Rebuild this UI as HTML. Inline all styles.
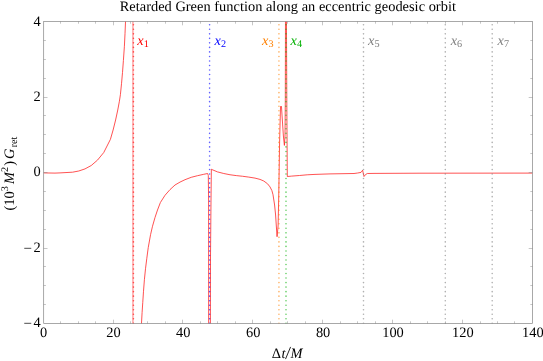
<!DOCTYPE html>
<html><head><meta charset="utf-8"><title>plot</title>
<style>
html,body{margin:0;padding:0;background:#fff;overflow:hidden;}
svg{display:block;will-change:transform;}
text{font-family:"Liberation Serif",serif;font-size:14.4px;fill:#000;text-rendering:geometricPrecision;}
.it{font-style:italic;}
.sub{font-size:10.2px;}
</style></head>
<body>
<svg width="543" height="361" viewBox="0 0 543 361">
<text x="119.7" y="10.8" textLength="336.2">Retarded Green function along an eccentric geodesic orbit</text>
<defs><clipPath id="c"><rect x="43.5" y="21.5" width="489.0" height="302.0"/></clipPath></defs>
<g clip-path="url(#c)" fill="none">
<g stroke="#ff2020" stroke-width="0.78" stroke-linejoin="round">
<path d="M43.50 172.90L55.00 173.10L60.00 172.90L72.50 172.20L78.75 171.00L85.00 168.90L91.25 165.50L97.50 160.10L103.75 152.50L110.40 139.40L113.10 130.00L115.60 120.00L117.75 110.00L119.40 101.25L120.40 94.70L121.50 83.75L122.50 72.50L123.40 60.50L124.40 46.25L125.00 33.75L125.50 21.90L125.90 10.00"/>
<path d="M141.00 335.00L141.50 323.10L142.10 312.50L142.75 302.50L143.50 291.25L144.40 279.70L145.50 268.75L146.75 258.75L148.25 247.50L150.55 234.70L152.50 226.25L155.00 217.50L157.50 210.00L160.40 202.50L165.00 195.30L170.00 189.60L175.00 185.00L180.00 182.10L185.00 179.70L191.25 177.30L197.50 175.70L203.75 174.30L207.60 173.50L208.30 175.50L208.60 200.00L208.65 335.00"/>
<path d="M210.35 335.00L210.40 323.00L210.50 256.00L211.00 200.00L211.35 169.20L211.80 169.50L217.50 171.90L223.75 173.50L230.00 174.75L236.25 175.60L242.50 176.25L248.75 177.10L255.00 178.10L260.00 179.40L263.75 181.00L267.50 183.75L270.00 186.90L271.90 190.60L273.00 194.70L274.60 205.00L275.60 215.00L276.25 225.00L277.05 236.70L278.10 226.00L278.75 195.00L279.60 142.00L280.50 107.00L281.00 106.00L281.50 107.00L282.00 115.00L283.40 136.00L284.40 145.40L285.00 136.00L285.30 100.00L285.50 10.00"/>
<path d="M286.40 10.00L286.80 100.00L287.30 176.50L291.70 176.10L299.40 175.50L307.20 174.80L315.00 174.40L330.00 173.90L354.00 173.50L357.70 173.00L361.00 172.40L362.60 170.20L364.00 176.50L365.50 174.60L367.30 173.50L374.00 173.40L420.00 173.20L532.50 173.10"/>
<path d="M132.95 10.00L132.95 335.00" stroke-width="0.6"/>
</g>
<line x1="133.45" y1="323.3" x2="133.45" y2="15.5" stroke="#ff0000" stroke-width="1.6" stroke-linecap="round" stroke-opacity="0.62" stroke-dasharray="0 4.523"/>
<line x1="209.6" y1="323.3" x2="209.6" y2="15.5" stroke="#0000ff" stroke-width="1.6" stroke-linecap="round" stroke-opacity="0.62" stroke-dasharray="0 4.523"/>
<line x1="278.95" y1="323.3" x2="278.95" y2="15.5" stroke="#ff8000" stroke-width="1.6" stroke-linecap="round" stroke-opacity="0.62" stroke-dasharray="0 4.523"/>
<line x1="286.0" y1="323.3" x2="286.0" y2="15.5" stroke="#00b000" stroke-width="1.6" stroke-linecap="round" stroke-opacity="0.62" stroke-dasharray="0 4.523"/>
<line x1="363.5" y1="323.3" x2="363.5" y2="15.5" stroke="#808080" stroke-width="1.6" stroke-linecap="round" stroke-opacity="0.62" stroke-dasharray="0 4.523"/>
<line x1="445.3" y1="323.3" x2="445.3" y2="15.5" stroke="#808080" stroke-width="1.6" stroke-linecap="round" stroke-opacity="0.62" stroke-dasharray="0 4.523"/>
<line x1="492.2" y1="323.3" x2="492.2" y2="15.5" stroke="#808080" stroke-width="1.6" stroke-linecap="round" stroke-opacity="0.62" stroke-dasharray="0 4.523"/>
</g>
<g stroke="#808080" stroke-width="0.68" fill="none">
<rect x="43.7" y="21.5" width="488.8" height="302.0"/>
<path stroke-width="0.45" d="M60.5 323.5v-2.2M60.5 21.5v2.2M78.5 323.5v-2.2M78.5 21.5v2.2M95.5 323.5v-2.2M95.5 21.5v2.2M113.5 323.5v-3.8M113.5 21.5v3.8M130.5 323.5v-2.2M130.5 21.5v2.2M147.5 323.5v-2.2M147.5 21.5v2.2M165.5 323.5v-2.2M165.5 21.5v2.2M182.5 323.5v-3.8M182.5 21.5v3.8M200.5 323.5v-2.2M200.5 21.5v2.2M217.5 323.5v-2.2M217.5 21.5v2.2M235.5 323.5v-2.2M235.5 21.5v2.2M252.5 323.5v-3.8M252.5 21.5v3.8M270.5 323.5v-2.2M270.5 21.5v2.2M287.5 323.5v-2.2M287.5 21.5v2.2M305.5 323.5v-2.2M305.5 21.5v2.2M322.5 323.5v-3.8M322.5 21.5v3.8M340.5 323.5v-2.2M340.5 21.5v2.2M357.5 323.5v-2.2M357.5 21.5v2.2M375.5 323.5v-2.2M375.5 21.5v2.2M392.5 323.5v-3.8M392.5 21.5v3.8M410.5 323.5v-2.2M410.5 21.5v2.2M427.5 323.5v-2.2M427.5 21.5v2.2M445.5 323.5v-2.2M445.5 21.5v2.2M462.5 323.5v-3.8M462.5 21.5v3.8M480.5 323.5v-2.2M480.5 21.5v2.2M497.5 323.5v-2.2M497.5 21.5v2.2M514.5 323.5v-2.2M514.5 21.5v2.2M43.7 304.5h2.2M532.5 304.5h-2.2M43.7 285.5h2.2M532.5 285.5h-2.2M43.7 266.5h2.2M532.5 266.5h-2.2M43.7 248.5h3.8M532.5 248.5h-3.8M43.7 229.5h2.2M532.5 229.5h-2.2M43.7 210.5h2.2M532.5 210.5h-2.2M43.7 191.5h2.2M532.5 191.5h-2.2M43.7 172.5h3.8M532.5 172.5h-3.8M43.7 153.5h2.2M532.5 153.5h-2.2M43.7 134.5h2.2M532.5 134.5h-2.2M43.7 115.5h2.2M532.5 115.5h-2.2M43.7 97.5h3.8M532.5 97.5h-3.8M43.7 78.5h2.2M532.5 78.5h-2.2M43.7 59.5h2.2M532.5 59.5h-2.2M43.7 40.5h2.2M532.5 40.5h-2.2"/>
</g>
<text x="43.49" y="337.4" text-anchor="middle">0</text>
<text x="113.39" y="337.4" text-anchor="middle">20</text>
<text x="183.29" y="337.4" text-anchor="middle">40</text>
<text x="253.19" y="337.4" text-anchor="middle">60</text>
<text x="323.09" y="337.4" text-anchor="middle">80</text>
<text x="392.99" y="337.4" text-anchor="middle">100</text>
<text x="462.89" y="337.4" text-anchor="middle">120</text>
<text x="532.79" y="337.4" text-anchor="middle">140</text>
<text x="40.6" y="327.10" text-anchor="end">4</text>
<text x="23.5" y="327.90" textLength="8.5" lengthAdjust="spacingAndGlyphs">−</text>
<text x="40.6" y="251.70" text-anchor="end">2</text>
<text x="23.5" y="252.50" textLength="8.5" lengthAdjust="spacingAndGlyphs">−</text>
<text x="40.6" y="176.30" text-anchor="end">0</text>
<text x="40.6" y="100.90" text-anchor="end">2</text>
<text x="40.6" y="25.50" text-anchor="end">4</text>
<text x="137.3" y="44.7" style="fill:#ff0000"><tspan class="it">x</tspan><tspan class="sub" dy="2">1</tspan></text>
<text x="214.5" y="44.7" style="fill:#0000ff"><tspan class="it">x</tspan><tspan class="sub" dy="2">2</tspan></text>
<text x="262.0" y="44.7" style="fill:#ff8000"><tspan class="it">x</tspan><tspan class="sub" dy="2">3</tspan></text>
<text x="290.5" y="44.7" style="fill:#00b000"><tspan class="it">x</tspan><tspan class="sub" dy="2">4</tspan></text>
<text x="368.0" y="44.7" style="fill:#808080"><tspan class="it">x</tspan><tspan class="sub" dy="2">5</tspan></text>
<text x="450.7" y="44.7" style="fill:#808080"><tspan class="it">x</tspan><tspan class="sub" dy="2">6</tspan></text>
<text x="497.5" y="44.7" style="fill:#808080"><tspan class="it">x</tspan><tspan class="sub" dy="2">7</tspan></text>
<text y="357.5"><tspan x="271.8">Δ</tspan><tspan class="it" x="281.5">t</tspan><tspan class="it" x="290.5">M</tspan></text>
<path d="M285.5 359.1L290.6 346.9" stroke="#000" stroke-width="0.85" fill="none"/>
<text transform="translate(14.4 210.5) rotate(-90)"><tspan x="0" y="0">(10</tspan><tspan class="sub" x="19.2" y="-6.1">3</tspan><tspan class="it" x="26.4" y="0">M</tspan><tspan class="sub" x="38.4" y="-6.1">2</tspan><tspan x="44.8" y="0">)</tspan><tspan class="it" x="51.5" y="0">G</tspan><tspan class="sub" x="63.2" y="2.5">ret</tspan></text>
</svg>
</body></html>
